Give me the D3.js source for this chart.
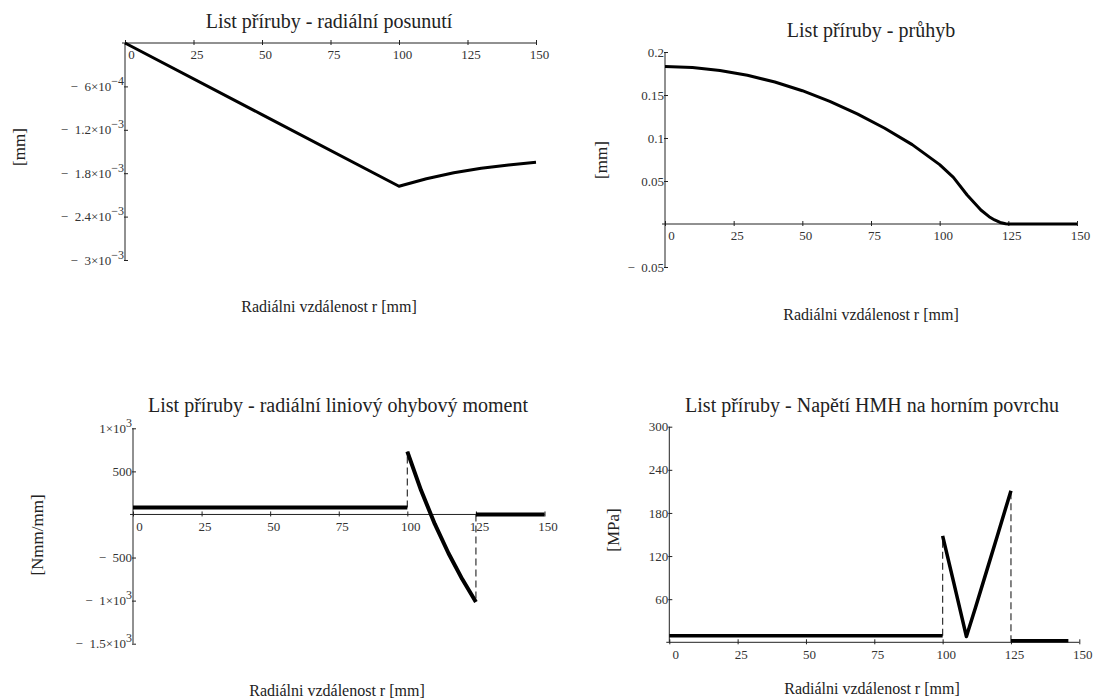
<!DOCTYPE html>
<html>
<head>
<meta charset="utf-8">
<script src="https://cdn.jsdelivr.net/npm/d3@7"></script>
<style>
  body { margin: 0; background: #fff; }
  text { font-family: "Liberation Serif", "Times New Roman", serif; }
</style>
</head>
<body>
<svg id="chart"></svg>
<script>
const width = 1093, height = 698;

// shared x ticks (radial distance r, mm)
const rTicks = [0, 25, 50, 75, 100, 125, 150];

const titles = [
  "List příruby - radiální posunutí",
  "List příruby - průhyb",
  "List příruby - radiální liniový ohybový moment",
  "List příruby - Napětí HMH na horním povrchu"
];
const xTitle = "Radiálni vzdálenost r [mm]";
const yTitles = ["[mm]", "[mm]", "[Nmm/mm]", "[MPa]"];

// 1 - radial displacement
const r1 = [0, 50, 100, 110, 120, 130, 140, 150];
const u1 = [0, -0.99e-3, -1.98e-3, -1.876e-3, -1.795e-3, -1.733e-3, -1.686e-3, -1.65e-3];
const yTicks1 = [-6e-4, -1.2e-3, -1.8e-3, -2.4e-3, -3e-3];
const yLabels1 = [["− 6×10", "−4"], ["− 1.2×10", "−3"], ["− 1.8×10", "−3"], ["− 2.4×10", "−3"], ["− 3×10", "−3"]];

// 2 - deflection
const r2 = [0, 10, 20, 30, 40, 50, 60, 70, 80, 90, 100, 105, 110, 115, 118, 120, 122, 124, 125, 150];
const w2 = [0.183, 0.1819, 0.1785, 0.1729, 0.1651, 0.155, 0.1427, 0.1281, 0.1113, 0.0923, 0.069,
            0.0543, 0.0337, 0.0163, 0.0085, 0.0047, 0.0018, 0.0003, 0, 0];
const yTicks2 = [0.2, 0.15, 0.1, 0.05, -0.05];
const yLabels2 = [["0.2"], ["0.15"], ["0.1"], ["0.05"], ["− 0.05"]];

// 3 - radial bending moment (three pieces)
const r3a = [0, 100], m3a = [80, 80];
const r3b = [100, 105, 110, 115, 120, 125], m3b = [730, 280, -110, -450, -750, -1015];
const r3c = [125, 150], m3c = [0, 0];
const yTicks3 = [1000, 500, -500, -1000, -1500];
const yLabels3 = [["1×10", "3"], ["500"], ["− 500"], ["− 1×10", "3"], ["− 1.5×10", "3"]];

// 4 - HMH stress on top surface
const r4a = [0, 100], s4a = [9, 9];
const r4b = [100, 104, 108.7, 112, 116, 120, 125], s4b = [148, 84, 8, 48, 98, 148, 211];
const r4c = [125, 146], s4c = [2, 2];
const yTicks4 = [300, 240, 180, 120, 60];
const yLabels4 = [["300"], ["240"], ["180"], ["120"], ["60"]];

const svg = d3.select("#chart").attr("width", width).attr("height", height);
svg.append("rect").attr("width", width).attr("height", height).attr("fill", "#fff");

const panels = [
  { title: titles[0], yTitle: yTitles[0], xRange: [125, 536], yDomain: [-3e-3, 0], yRange: [260, 43],
    yTicks: yTicks1, yLabels: yLabels1, titleAt: [329, 28], xTitleAt: [329, 312], yTitleAt: [19, 147], lw: 3,
    series: [[r1, u1]], dashes: [] },
  { title: titles[1], yTitle: yTitles[1], xRange: [665, 1077], yDomain: [-0.05, 0.2], yRange: [267, 52],
    yTicks: yTicks2, yLabels: yLabels2, titleAt: [871, 37], xTitleAt: [871, 320], yTitleAt: [601, 160], lw: 3,
    series: [[r2, w2]], dashes: [] },
  { title: titles[2], yTitle: yTitles[2], xRange: [133, 544.5], yDomain: [-1500, 1000], yRange: [643.7, 428.3],
    yTicks: yTicks3, yLabels: yLabels3, titleAt: [338, 412], xTitleAt: [337, 696], yTitleAt: [37, 535], lw: 4,
    series: [[r3a, m3a], [r3b, m3b], [r3c, m3c]],
    dashes: [[100, m3a[1], m3b[0]], [125, m3c[0], m3b[m3b.length - 1]]] },
  { title: titles[3], yTitle: yTitles[3], xRange: [669.3, 1079.3], yDomain: [0, 300], yRange: [642.3, 426.7],
    yTicks: yTicks4, yLabels: yLabels4, titleAt: [872, 412], xTitleAt: [872, 694], yTitleAt: [613, 530], lw: 3.5,
    series: [[r4a, s4a], [r4b, s4b], [r4c, s4c]],
    dashes: [[100, s4a[1], s4b[0]], [125, 0, s4b[s4b.length - 1]]] }
];

function drawPanel(p) {
  const x = d3.scaleLinear().domain([0, 150]).range(p.xRange);
  const y = d3.scaleLinear().domain(p.yDomain).range(p.yRange);
  const g = svg.append("g");

  // axes lines
  g.append("line")
    .attr("x1", x(0) - 3).attr("x2", x(150))
    .attr("y1", y(0)).attr("y2", y(0))
    .attr("stroke", "#222").attr("stroke-width", 1);
  g.append("line")
    .attr("x1", x(0)).attr("x2", x(0))
    .attr("y1", y.range()[0]).attr("y2", y.range()[1])
    .attr("stroke", "#222").attr("stroke-width", 1);

  const xa = g.append("g")
    .attr("transform", `translate(0,${y(0)})`)
    .call(d3.axisBottom(x).tickValues(rTicks).tickSizeInner(-3).tickSizeOuter(0).tickPadding(7));
  xa.attr("font-family", "Liberation Serif").attr("font-size", 13).attr("color", "#222");
  xa.select(".domain").remove();
  xa.selectAll(".tick line").attr("y1", 2);
  xa.selectAll(".tick text").attr("dx", d => d === 0 ? 6 : 3).attr("fill", "#333");

  const ya = g.append("g")
    .attr("transform", `translate(${x(0)},0)`)
    .call(d3.axisLeft(y).tickValues(p.yTicks).tickSizeInner(-3).tickSizeOuter(0).tickPadding(1).tickFormat(() => ""));
  ya.attr("font-family", "Liberation Serif").attr("font-size", 13).attr("color", "#222");
  ya.select(".domain").remove();
  ya.selectAll(".tick line").attr("x1", -1);
  ya.selectAll(".tick text").attr("fill", "#333").each(function (d, i) {
    const t = d3.select(this), lab = p.yLabels[i];
    // Mathcad puts a wide gap after the minus sign
    t.append("tspan").text(lab[0].replace("− ", "−\u2002"));
    if (lab[1]) t.append("tspan").attr("dy", -6).attr("font-size", 12).text(lab[1]);
  });

  // dashed jump lines
  p.dashes.forEach(d => {
    g.append("line")
      .attr("x1", x(d[0])).attr("x2", x(d[0]))
      .attr("y1", y(d[1])).attr("y2", y(d[2]))
      .attr("stroke", "#333").attr("stroke-width", 1.2)
      .attr("stroke-dasharray", "7,4");
  });

  const line = d3.line().x(d => x(d[0])).y(d => y(d[1]));
  p.series.forEach(s => {
    g.append("path")
      .datum(d3.zip(s[0], s[1]))
      .attr("fill", "none")
      .attr("stroke", "#000")
      .attr("stroke-width", p.lw)
      .attr("stroke-linejoin", "round")
      .attr("d", line);
  });

  g.append("text")
    .attr("x", p.titleAt[0]).attr("y", p.titleAt[1])
    .attr("text-anchor", "middle").attr("font-size", 20).attr("fill", "#222")
    .text(p.title);
  g.append("text")
    .attr("x", p.xTitleAt[0]).attr("y", p.xTitleAt[1])
    .attr("text-anchor", "middle").attr("font-size", 16).attr("fill", "#222")
    .text(xTitle);
  g.append("text")
    .attr("transform", `translate(${p.yTitleAt[0]},${p.yTitleAt[1]}) rotate(-90)`)
    .attr("text-anchor", "middle").attr("dy", "0.35em").attr("font-size", 17).attr("fill", "#222")
    .text(p.yTitle);
}

panels.forEach(drawPanel);
</script>
</body>
</html>
